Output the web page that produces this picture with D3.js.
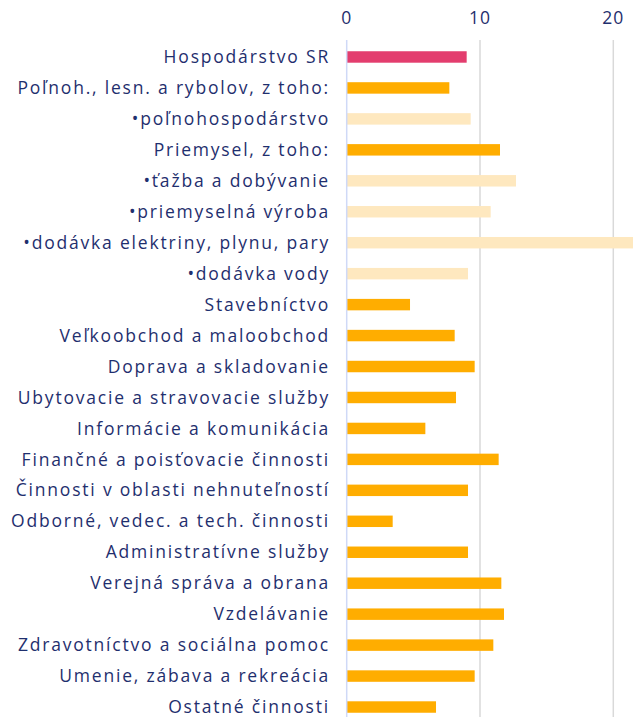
<!DOCTYPE html>
<html>
<head>
<meta charset="utf-8">
<script src="https://cdn.jsdelivr.net/npm/d3@7"></script>
<style>
  body { margin: 0; background: #fff; }
  svg { display: block; font-family: "Open Sans", sans-serif; }
</style>
</head>
<body>
<div id="chart"></div>
<script>
const width = 633,
      height = 717;

// categories (top to bottom)
const categories = [
  'Hospodárstvo SR',
  'Poľnoh., lesn. a rybolov, z toho:',
  '•poľnohospodárstvo',
  'Priemysel, z toho:',
  '•ťažba a dobývanie',
  '•priemyselná výroba',
  '•dodávka elektriny, plynu, pary',
  '•dodávka vody',
  'Stavebníctvo',
  'Veľkoobchod a maloobchod',
  'Doprava a skladovanie',
  'Ubytovacie a stravovacie služby',
  'Informácie a komunikácia',
  'Finančné a poisťovacie činnosti',
  'Činnosti v oblasti nehnuteľností',
  'Odborné, vedec. a tech. činnosti',
  'Administratívne služby',
  'Verejná správa a obrana',
  'Vzdelávanie',
  'Zdravotníctvo a sociálna pomoc',
  'Umenie, zábava a rekreácia',
  'Ostatné činnosti'
];
const values = [9.0, 7.7, 9.3, 11.5, 12.7, 10.8, 21.6, 9.1, 4.75, 8.1, 9.6, 8.2,
                5.9, 11.4, 9.1, 3.45, 9.1, 11.6, 11.8, 11.0, 9.6, 6.7];
// 0 = total, 1 = section, 2 = sub-item
const levels = [0, 1, 2, 1, 2, 2, 2, 2, 1, 1, 1, 1, 1, 1, 1, 1, 1, 1, 1, 1, 1, 1];
const xTicks = [0, 10, 20];

const levelColor = ['#e33d6e', '#ffad00', '#fee8bf'];
const textColor = '#1f2f6e';

const data = categories.map((c, i) => ({ cat: c, value: values[i], level: levels[i] }));

const svg = d3.select('#chart').append('svg')
  .attr('width', width)
  .attr('height', height);

const x = d3.scaleLinear().domain([0, 20]).range([346.7, 613.3]);
const y = d3.scaleBand()
  .domain(categories)
  .range([41.5, 722.5])
  .paddingInner(0.63)
  .paddingOuter(0.315);

// grid lines
svg.append('g')
  .selectAll('line')
  .data(xTicks.filter(d => d > 0))
  .join('line')
  .attr('x1', d => x(d)).attr('x2', d => x(d))
  .attr('y1', 40).attr('y2', height)
  .attr('stroke', '#d9d9d9')
  .attr('stroke-width', 1.5);

// tick labels on top
svg.append('g')
  .selectAll('text')
  .data(xTicks)
  .join('text')
  .attr('x', d => x(d))
  .attr('y', 24)
  .attr('text-anchor', 'middle')
  .attr('fill', textColor)
  .style('font-size', '17.5px')
  .style('letter-spacing', '1px')
  .text(d => d);

// bars
svg.append('g')
  .selectAll('rect')
  .data(data)
  .join('rect')
  .attr('x', x(0))
  .attr('y', d => y(d.cat))
  .attr('width', d => x(d.value) - x(0))
  .attr('height', y.bandwidth())
  .attr('fill', d => levelColor[d.level]);

// zero line
svg.append('line')
  .attr('x1', x(0)).attr('x2', x(0))
  .attr('y1', 40).attr('y2', height)
  .attr('stroke', '#cfd9f7')
  .attr('stroke-width', 1.5);

// category labels
svg.append('g')
  .selectAll('text')
  .data(data)
  .join('text')
  .attr('x', 330)
  .attr('y', d => y(d.cat) + y.bandwidth() / 2)
  .attr('dy', '0.35em')
  .attr('text-anchor', 'end')
  .attr('fill', textColor)
  .style('font-size', '17.5px')
  .style('letter-spacing', '1.8px')
  .text(d => d.cat);
</script>
</body>
</html>
